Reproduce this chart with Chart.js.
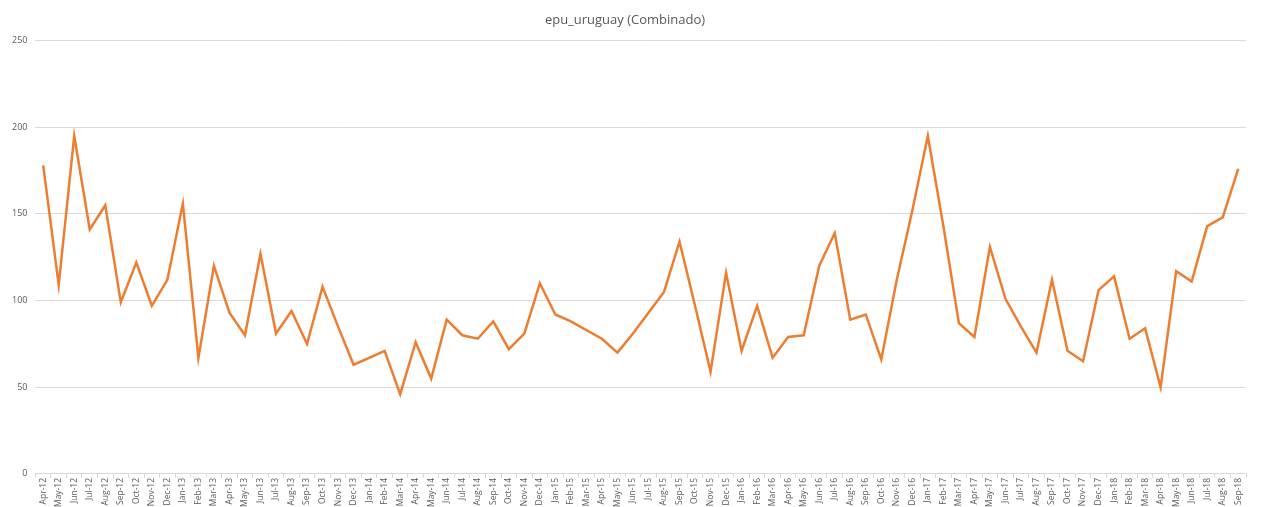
<!DOCTYPE html>
<html>
<head>
<meta charset="utf-8">
<script src="https://cdn.jsdelivr.net/npm/chart.js@4/dist/chart.umd.min.js"></script>
<style>
  html, body { margin: 0; padding: 0; background: #fff; }
  #wrap { width: 1265px; height: 507px; }
</style>
</head>
<body>
<div id="wrap"><canvas id="grafico"></canvas></div>
<script>
const meses = [
  'Apr-12','May-12','Jun-12','Jul-12','Aug-12','Sep-12','Oct-12','Nov-12','Dec-12',
  'Jan-13','Feb-13','Mar-13','Apr-13','May-13','Jun-13','Jul-13','Aug-13','Sep-13','Oct-13','Nov-13','Dec-13',
  'Jan-14','Feb-14','Mar-14','Apr-14','May-14','Jun-14','Jul-14','Aug-14','Sep-14','Oct-14','Nov-14','Dec-14',
  'Jan-15','Feb-15','Mar-15','Apr-15','May-15','Jun-15','Jul-15','Aug-15','Sep-15','Oct-15','Nov-15','Dec-15',
  'Jan-16','Feb-16','Mar-16','Apr-16','May-16','Jun-16','Jul-16','Aug-16','Sep-16','Oct-16','Nov-16','Dec-16',
  'Jan-17','Feb-17','Mar-17','Apr-17','May-17','Jun-17','Jul-17','Aug-17','Sep-17','Oct-17','Nov-17','Dec-17',
  'Jan-18','Feb-18','Mar-18','Apr-18','May-18','Jun-18','Jul-18','Aug-18','Sep-18'
];

const epuUruguay = [
  178, 109, 195, 141, 155, 99, 122, 97, 112,
  156, 67, 120, 93, 80, 127, 81, 94, 75, 108, 85, 63,
  67, 71, 46, 76, 55, 89, 80, 78, 88, 72, 81, 110,
  92, 88, 83, 78, 70, 81, 93, 105, 134, 97, 59, 116,
  71, 97, 67, 79, 80, 120, 139, 89, 92, 66, 112, 152,
  195, 143, 87, 79, 131, 101, 85, 70, 112, 71, 65, 106,
  114, 78, 84, 50, 117, 111, 143, 148, 176
];

const ticksY = [0, 50, 100, 150, 200, 250];

const ctx = document.getElementById('grafico').getContext('2d');
new Chart(ctx, {
  type: 'line',
  data: {
    labels: meses,
    datasets: [{
      label: 'epu_uruguay',
      data: epuUruguay,
      borderColor: '#ED7D31',
      borderWidth: 2.5,
      pointRadius: 0,
      tension: 0,
      fill: false
    }]
  },
  options: {
    responsive: true,
    maintainAspectRatio: false,
    animation: false,
    layout: { padding: { left: 4, right: 19, top: 8, bottom: 0 } },
    plugins: {
      legend: { display: false },
      tooltip: { enabled: false },
      title: {
        display: true,
        text: 'epu_uruguay (Combinado)',
        color: '#595959',
        font: { family: 'Open Sans', size: 13, weight: 'normal' },
        padding: { top: 4, bottom: 13 }
      }
    },
    scales: {
      x: {
        offset: true,
        grid: {
          offset: true,
          drawOnChartArea: false,
          drawTicks: true,
          tickLength: 4,
          color: '#d9d9d9'
        },
        border: { color: '#d9d9d9' },
        ticks: {
          autoSkip: false,
          maxRotation: 90,
          minRotation: 90,
          padding: 0,
          color: '#595959',
          font: { family: 'Open Sans', size: 8.5 }
        }
      },
      y: {
        min: 0,
        max: 250,
        afterBuildTicks: (axis) => { axis.ticks = ticksY.map(v => ({ value: v })); },
        grid: { color: '#d9d9d9', drawTicks: false },
        border: { display: false },
        ticks: {
          padding: 8,
          color: '#595959',
          font: { family: 'Open Sans', size: 9 }
        }
      }
    }
  }
});
</script>
</body>
</html>
